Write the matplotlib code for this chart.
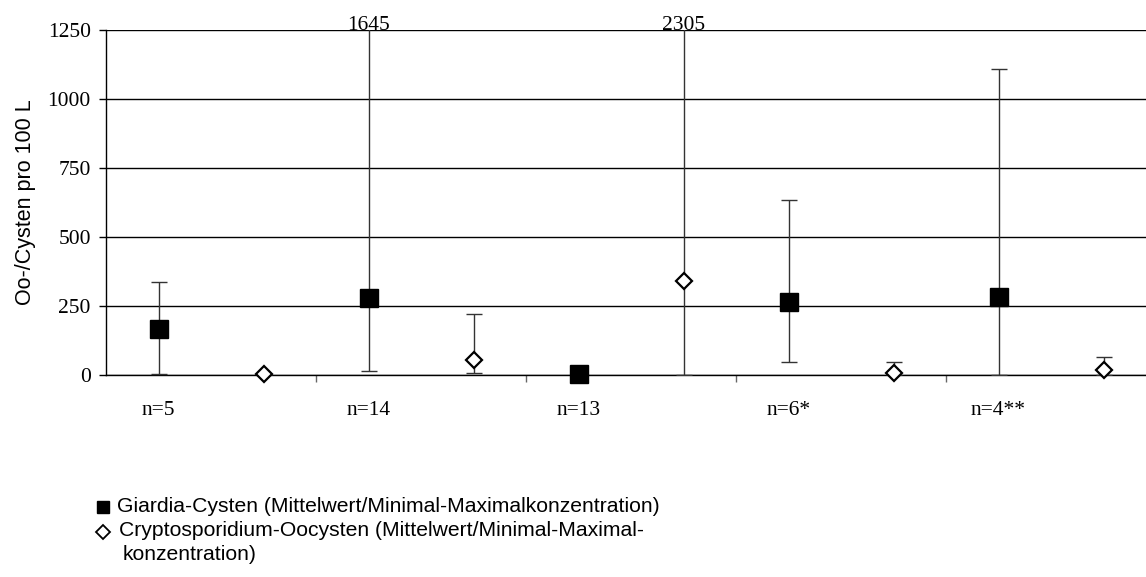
import matplotlib
matplotlib.use("Agg")
import matplotlib.pyplot as plt
from matplotlib.lines import Line2D
import numpy as np

# data (Oo-/Cysten pro 100 L)
groups = ["n=5", "n=14", "n=13", "n=6*", "n=4**"]
giardia_mean = [168, 280, 4, 265, 284]
giardia_min = [2, 13, 0, 47, 0]
giardia_max = [336, 1645, 4, 633, 1110]
crypto_mean = [2, 54, 340, 8, 18]
crypto_min = [0, 6, 0, 0, 0]
crypto_max = [2, 221, 2305, 46, 66]

serif = "Liberation Serif"
sans = "Liberation Sans"

fig = plt.figure(figsize=(11.46, 5.77), dpi=100)
ax = fig.add_axes([106/1146, 202/577, 1050/1146, 345/577])

x = np.arange(len(groups))
xg = x - 0.25
xc = x + 0.25

gm = np.array(giardia_mean)
cm = np.array(crypto_mean)
g_err = [gm - np.array(giardia_min), np.array(giardia_max) - gm]
c_err = [cm - np.array(crypto_min), np.array(crypto_max) - cm]

ax.errorbar(xg, gm, yerr=g_err, fmt="none", ecolor="#333333", elinewidth=1.0,
            capsize=6, capthick=1.0, zorder=3)
ax.errorbar(xc, cm, yerr=c_err, fmt="none", ecolor="#333333", elinewidth=1.0,
            capsize=6, capthick=1.0, zorder=3)
ax.plot(xg, gm, ls="none", marker="s", ms=12.5, mfc="black", mec="black", zorder=4, clip_on=False)
ax.plot(xc, cm, ls="none", marker="D", ms=8.5, mfc="white", mec="black", mew=1.6, zorder=4, clip_on=False)

ax.set_xlim(-0.5, 4.5)
ax.set_ylim(0, 1250)
ax.set_yticks([0, 250, 500, 750, 1000, 1250])
ax.yaxis.grid(True, color="black", lw=1.0)
ax.set_axisbelow(True)
ax.set_xticks(np.arange(0.5, 4.5, 1.0))
ax.set_xticklabels([])
ax.tick_params(axis="x", length=5, color="#666666", width=1)
ax.tick_params(axis="y", length=5, width=1, pad=6)
for lbl in ax.get_yticklabels():
    lbl.set_fontfamily(serif)
    lbl.set_fontsize(15.5)
for s in ["top", "right"]:
    ax.spines[s].set_visible(False)
ax.spines["left"].set_linewidth(1.0)
ax.spines["bottom"].set_linewidth(1.0)

ax.set_ylabel("Oo-/Cysten pro 100 L", fontfamily=sans, fontsize=15.5, labelpad=8)

# values of bars running off the top
for xi, v in zip(xg, giardia_max):
    if v > 1250:
        ax.text(xi, 1250, str(v), ha="center", va="baseline", fontfamily=serif, fontsize=15.5)
for xi, v in zip(xc, crypto_max):
    if v > 1250:
        ax.text(xi, 1250, str(v), ha="center", va="baseline", fontfamily=serif, fontsize=15.5)

# group labels below the axis
for xi, g in zip(xg, groups):
    ax.text(xi, -0.102, g, transform=ax.get_xaxis_transform(), ha="center", va="center",
            fontfamily=serif, fontsize=15.5)

# legend drawn by hand
fig.add_artist(Line2D([103/1146], [1 - 507/577], marker="s", ms=9, mfc="black", mec="black", ls="none"))
fig.add_artist(Line2D([103/1146], [1 - 532/577], marker="D", ms=7, mfc="white", mec="black", mew=1.3, ls="none"))
fig.text(117/1146, 1 - 507/577, "Giardia-Cysten (Mittelwert/Minimal-Maximalkonzentration)",
         ha="left", va="center", fontfamily=sans, fontsize=15.2)
fig.text(119/1146, 1 - 531/577, "Cryptosporidium-Oocysten (Mittelwert/Minimal-Maximal-",
         ha="left", va="center", fontfamily=sans, fontsize=15.2)
fig.text(123/1146, 1 - 554/577, "konzentration)",
         ha="left", va="center", fontfamily=sans, fontsize=15.2)

fig.savefig("out.png", dpi=100)
